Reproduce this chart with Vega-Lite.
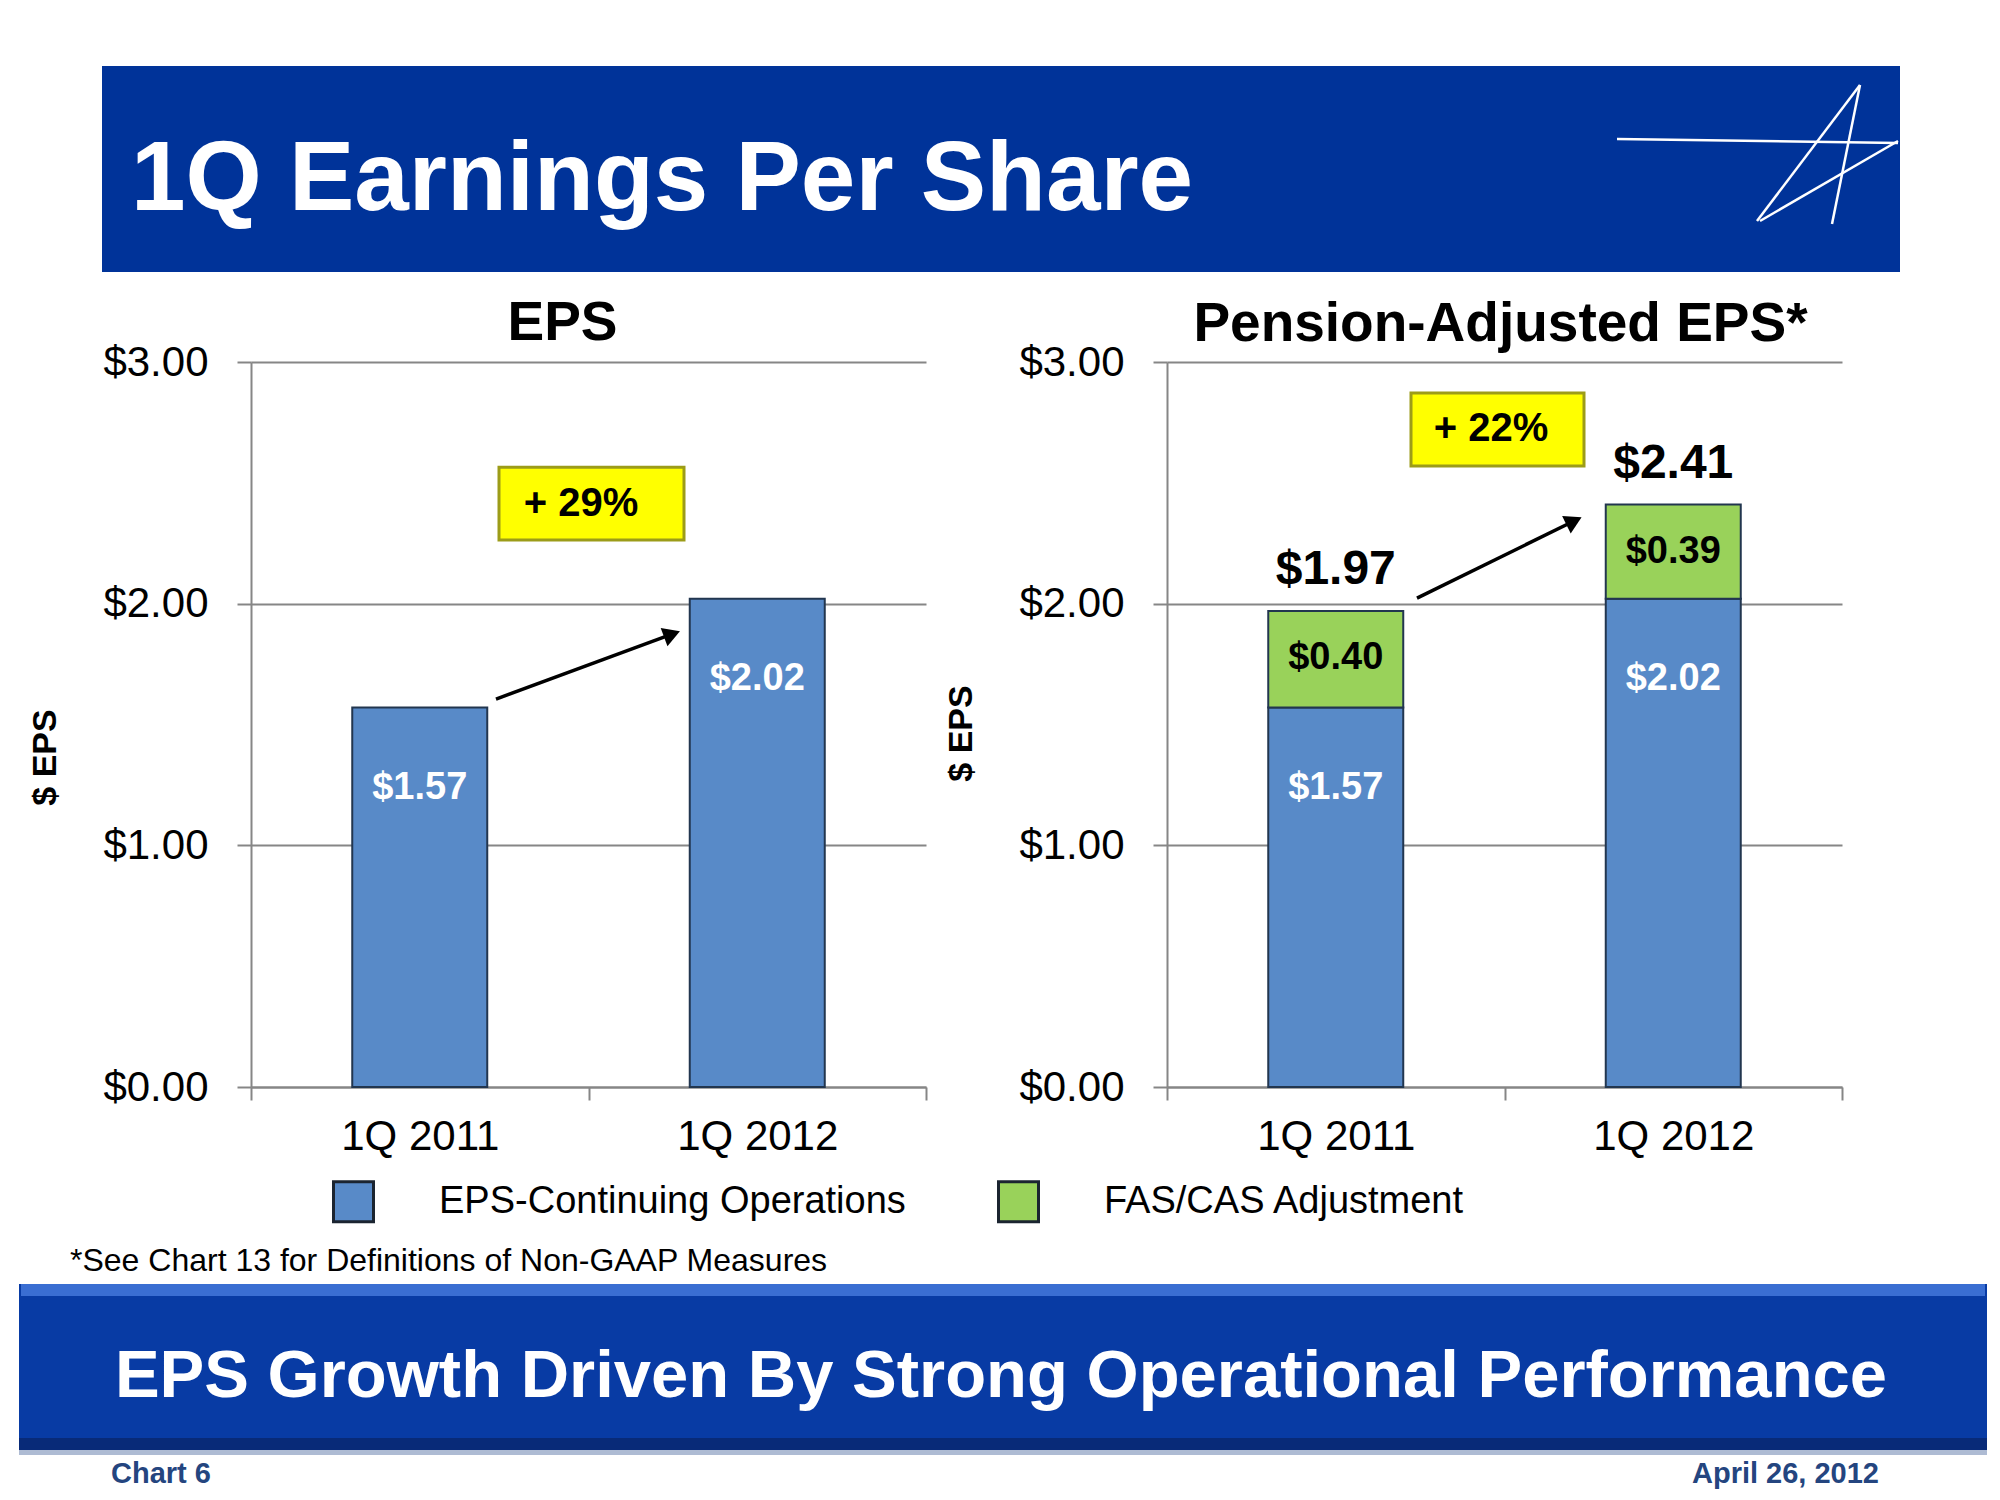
{
  "$schema": "https://vega.github.io/schema/vega-lite/v6.json",
  "background": "white",
  "padding": {"left": 19, "top": 66, "right": 13, "bottom": 8},
  "bounds": "flush",
  "spacing": 241,
  "config": {
    "view": {"stroke": null},
    "font": "Liberation Sans",
    "axis": {
      "labelFont": "Liberation Sans", "labelFontSize": 42, "labelColor": "black",
      "domainColor": "#868686", "domainWidth": 2, "tickColor": "#868686", "tickWidth": 2,
      "gridColor": "#868686", "gridWidth": 2,
      "titleFont": "Liberation Sans", "titleFontSize": 34, "titleFontWeight": "bold", "titleColor": "black"
    },
    "axisX": {"tickSize": 13, "labelPadding": 16, "grid": false},
    "axisY": {"tickSize": 14, "labelPadding": 29, "grid": true, "titlePadding": 40},
    "title": {"font": "Liberation Sans", "fontSize": 55, "fontWeight": "bold", "color": "black", "anchor": "middle", "frame": "group"}
  },
  "datasets": {
    "gaap": [
      {"quarter": "1Q 2011", "series": "EPS-Continuing  Operations", "value": 1.57, "order": 1},
      {"quarter": "1Q 2012", "series": "EPS-Continuing  Operations", "value": 2.02, "order": 1}
    ],
    "adjusted": [
      {"quarter": "1Q 2011", "series": "EPS-Continuing  Operations", "value": 1.57, "order": 1},
      {"quarter": "1Q 2011", "series": "FAS/CAS Adjustment", "value": 0.40, "order": 2},
      {"quarter": "1Q 2012", "series": "EPS-Continuing  Operations", "value": 2.02, "order": 1},
      {"quarter": "1Q 2012", "series": "FAS/CAS Adjustment", "value": 0.39, "order": 2}
    ]
  },
  "hconcat": [
    {
      "width": 675,
      "height": 725,
      "title": {"text": "EPS", "dx": -26, "offset": -286},
      "layer": [
        {
          "data": {"values": [{"t": "banner"}]},
          "mark": {"type": "rect", "color": "#003399"},
          "encoding": {"x": {"value": -149}, "x2": {"value": 1649}, "y": {"value": -296}, "y2": {"value": -90}}
        },
        {
          "data": {"values": [{"t": "logo"}]},
          "mark": {"type": "rule", "color": "white", "strokeWidth": 2.5},
          "encoding": {"x": {"value": 1366}, "x2": {"value": 1647}, "y": {"value": -223}, "y2": {"value": -219}}
        },
        {
          "data": {"values": [{"t": "logo"}]},
          "mark": {"type": "rule", "color": "white", "strokeWidth": 2.5},
          "encoding": {"x": {"value": 1609}, "x2": {"value": 1506}, "y": {"value": -277}, "y2": {"value": -141}}
        },
        {
          "data": {"values": [{"t": "logo"}]},
          "mark": {"type": "rule", "color": "white", "strokeWidth": 2.5},
          "encoding": {"x": {"value": 1609}, "x2": {"value": 1581}, "y": {"value": -277}, "y2": {"value": -138}}
        },
        {
          "data": {"values": [{"t": "logo"}]},
          "mark": {"type": "rule", "color": "white", "strokeWidth": 2.5},
          "encoding": {"x": {"value": 1647}, "x2": {"value": 1509}, "y": {"value": -221}, "y2": {"value": -141}}
        },
        {
          "data": {"values": [{"t": "1Q Earnings Per Share"}]},
          "mark": {"type": "text", "color": "white", "fontSize": 98, "fontWeight": "bold", "align": "left", "baseline": "alphabetic"},
          "encoding": {"text": {"field": "t"}, "x": {"value": -120}, "y": {"value": -152}}
        },
        {
          "data": {"values": [{"t": "*See Chart 13  for Definitions of Non-GAAP Measures"}]},
          "mark": {"type": "text", "color": "black", "fontSize": 32, "align": "left", "baseline": "alphabetic"},
          "encoding": {"text": {"field": "t"}, "x": {"value": -181}, "y": {"value": 909}}
        },
        {
          "data": {"values": [{"t": "banner"}]},
          "mark": {"type": "rect", "color": "#AEBBD3"},
          "encoding": {"x": {"value": -232}, "x2": {"value": 1736}, "y": {"value": 1086}, "y2": {"value": 1093}}
        },
        {
          "data": {"values": [{"t": "banner"}]},
          "mark": {"type": "rect", "color": "#083BA4"},
          "encoding": {"x": {"value": -232}, "x2": {"value": 1736}, "y": {"value": 922}, "y2": {"value": 1088}}
        },
        {
          "data": {"values": [{"t": "banner"}]},
          "mark": {"type": "rect", "color": "#3A6ED2"},
          "encoding": {"x": {"value": -230}, "x2": {"value": 1734}, "y": {"value": 922}, "y2": {"value": 934}}
        },
        {
          "data": {"values": [{"t": "banner"}]},
          "mark": {"type": "rect", "color": "#082A78"},
          "encoding": {"x": {"value": -232}, "x2": {"value": 1736}, "y": {"value": 1076}, "y2": {"value": 1088}}
        },
        {
          "data": {"values": [{"t": "EPS Growth Driven By Strong Operational Performance"}]},
          "mark": {"type": "text", "color": "white", "fontSize": 67, "fontWeight": "bold", "align": "center", "baseline": "alphabetic"},
          "encoding": {"text": {"field": "t"}, "x": {"value": 750}, "y": {"value": 1035}}
        },
        {
          "data": {"values": [{"t": "Chart 6"}]},
          "mark": {"type": "text", "color": "#24457F", "fontSize": 29, "fontWeight": "bold", "align": "left", "baseline": "alphabetic"},
          "encoding": {"text": {"field": "t"}, "x": {"value": -140}, "y": {"value": 1121}}
        },
        {
          "data": {"values": [{"t": "April 26, 2012"}]},
          "mark": {"type": "text", "color": "#24457F", "fontSize": 29, "fontWeight": "bold", "align": "right", "baseline": "alphabetic"},
          "encoding": {"text": {"field": "t"}, "x": {"value": 1628}, "y": {"value": 1121}}
        },
        {
          "data": {"name": "gaap"},
          "mark": {"type": "bar", "stroke": "#22364F", "strokeWidth": 2, "width": {"band": 0.4}},
          "encoding": {
            "x": {"field": "quarter", "type": "nominal", "sort": ["1Q 2011", "1Q 2012"], "scale": {"paddingInner": 0, "paddingOuter": 0}, "axis": {"title": null, "labelAngle": 0, "tickBand": "extent"}},
            "y": {"field": "value", "type": "quantitative", "title": "$ EPS", "scale": {"domain": [0, 3], "nice": false}, "axis": {"values": [0, 1, 2, 3], "format": "$.2f", "titleY": 395}},
            "color": {"field": "series", "type": "nominal", "scale": {"domain": ["EPS-Continuing  Operations", "FAS/CAS Adjustment"], "range": ["#588AC8", "#99D25A"]},
              "legend": {"title": null, "orient": "none", "legendX": 81, "legendY": 818, "direction": "horizontal", "symbolType": "square", "symbolSize": 1600, "symbolStrokeColor": "#1B2430", "symbolStrokeWidth": 3, "symbolOpacity": 1, "labelFontSize": 38, "labelFont": "Liberation Sans", "labelColor": "black", "labelOffset": 64, "columnPadding": 75, "labelLimit": 0}}
          }
        },
        {
          "data": {"name": "gaap"},
          "mark": {"type": "text", "dy": 80, "fontSize": 38, "fontWeight": "bold", "color": "white", "baseline": "middle"},
          "encoding": {
            "x": {"field": "quarter", "type": "nominal", "sort": ["1Q 2011", "1Q 2012"]},
            "y": {"field": "value", "type": "quantitative"},
            "text": {"field": "value", "type": "quantitative", "format": "$.2f"}
          }
        },
        {
          "data": {"values": [{"t": "+ 29%"}]},
          "mark": {"type": "rect", "fill": "#FFFF00", "stroke": "#9C9C18", "strokeWidth": 3},
          "encoding": {"x": {"value": 248}, "x2": {"value": 433}, "y": {"datum": 2.565}, "y2": {"datum": 2.263}}
        },
        {
          "data": {"values": [{"t": "+ 29%"}]},
          "mark": {"type": "text", "fontSize": 40, "fontWeight": "bold", "color": "black", "baseline": "middle"},
          "encoding": {"text": {"field": "t"}, "x": {"value": 330}, "y": {"datum": 2.414}}
        },
        {
          "data": {"values": [{"t": "arrow"}]},
          "mark": {"type": "rule", "color": "black", "strokeWidth": 3.5},
          "encoding": {"x": {"value": 245}, "x2": {"value": 421}, "y": {"datum": 1.605}, "y2": {"datum": 1.874}}
        },
        {
          "data": {"values": [{"t": "arrow"}]},
          "mark": {"type": "point", "shape": "triangle-right", "filled": true, "color": "black", "opacity": 1, "size": 380, "angle": 339.7},
          "encoding": {"x": {"value": 421}, "y": {"datum": 1.874}}
        }
      ]
    },
    {
      "width": 675,
      "height": 725,
      "title": {"text": "Pension-Adjusted EPS*", "dx": -4, "offset": -12},
      "data": {"name": "adjusted"},
      "transform": [{"stack": "value", "groupby": ["quarter"], "sort": [{"field": "order"}], "as": ["v0", "v1"]}],
      "layer": [
        {
          "mark": {"type": "bar", "stroke": "#22364F", "strokeWidth": 2, "width": {"band": 0.4}},
          "encoding": {
            "x": {"field": "quarter", "type": "nominal", "sort": ["1Q 2011", "1Q 2012"], "scale": {"paddingInner": 0, "paddingOuter": 0}, "axis": {"title": null, "labelAngle": 0, "tickBand": "extent"}},
            "y": {"field": "v1", "type": "quantitative", "title": "$ EPS", "scale": {"domain": [0, 3], "nice": false}, "axis": {"values": [0, 1, 2, 3], "format": "$.2f", "titleY": 371}},
            "y2": {"field": "v0"},
            "color": {"field": "series", "type": "nominal", "scale": {"domain": ["EPS-Continuing  Operations", "FAS/CAS Adjustment"], "range": ["#588AC8", "#99D25A"]},
              "legend": {"title": null, "orient": "none", "legendX": 81, "legendY": 818, "direction": "horizontal", "symbolType": "square", "symbolSize": 1600, "symbolStrokeColor": "#1B2430", "symbolStrokeWidth": 3, "symbolOpacity": 1, "labelFontSize": 38, "labelFont": "Liberation Sans", "labelColor": "black", "labelOffset": 64, "columnPadding": 75, "labelLimit": 0}}
          }
        },
        {
          "transform": [{"filter": "datum.order == 1"}],
          "mark": {"type": "text", "dy": 80, "fontSize": 38, "fontWeight": "bold", "color": "white", "baseline": "middle"},
          "encoding": {
            "x": {"field": "quarter", "type": "nominal", "sort": ["1Q 2011", "1Q 2012"]},
            "y": {"field": "v1", "type": "quantitative"},
            "text": {"field": "value", "type": "quantitative", "format": "$.2f"}
          }
        },
        {
          "transform": [{"filter": "datum.order == 2"}],
          "mark": {"type": "text", "dy": 47, "fontSize": 38, "fontWeight": "bold", "color": "black", "baseline": "middle"},
          "encoding": {
            "x": {"field": "quarter", "type": "nominal", "sort": ["1Q 2011", "1Q 2012"]},
            "y": {"field": "v1", "type": "quantitative"},
            "text": {"field": "value", "type": "quantitative", "format": "$.2f"}
          }
        },
        {
          "mark": {"type": "text", "dy": -41, "fontSize": 48, "fontWeight": "bold", "color": "black", "baseline": "middle"},
          "encoding": {
            "x": {"field": "quarter", "type": "nominal", "sort": ["1Q 2011", "1Q 2012"]},
            "y": {"aggregate": "sum", "field": "value", "type": "quantitative"},
            "text": {"aggregate": "sum", "field": "value", "type": "quantitative", "format": "$.2f"}
          }
        },
        {
          "data": {"values": [{"t": "+ 22%"}]},
          "mark": {"type": "rect", "fill": "#FFFF00", "stroke": "#9C9C18", "strokeWidth": 3},
          "encoding": {"x": {"value": 244}, "x2": {"value": 417}, "y": {"datum": 2.872}, "y2": {"datum": 2.570}}
        },
        {
          "data": {"values": [{"t": "+ 22%"}]},
          "mark": {"type": "text", "fontSize": 40, "fontWeight": "bold", "color": "black", "baseline": "middle"},
          "encoding": {"text": {"field": "t"}, "x": {"value": 324}, "y": {"datum": 2.721}}
        },
        {
          "data": {"values": [{"t": "arrow"}]},
          "mark": {"type": "rule", "color": "black", "strokeWidth": 3.5},
          "encoding": {"x": {"value": 250}, "x2": {"value": 407}, "y": {"datum": 2.023}, "y2": {"datum": 2.342}}
        },
        {
          "data": {"values": [{"t": "arrow"}]},
          "mark": {"type": "point", "shape": "triangle-right", "filled": true, "color": "black", "opacity": 1, "size": 380, "angle": 333.9},
          "encoding": {"x": {"value": 407}, "y": {"datum": 2.342}}
        }
      ]
    }
  ]
}
